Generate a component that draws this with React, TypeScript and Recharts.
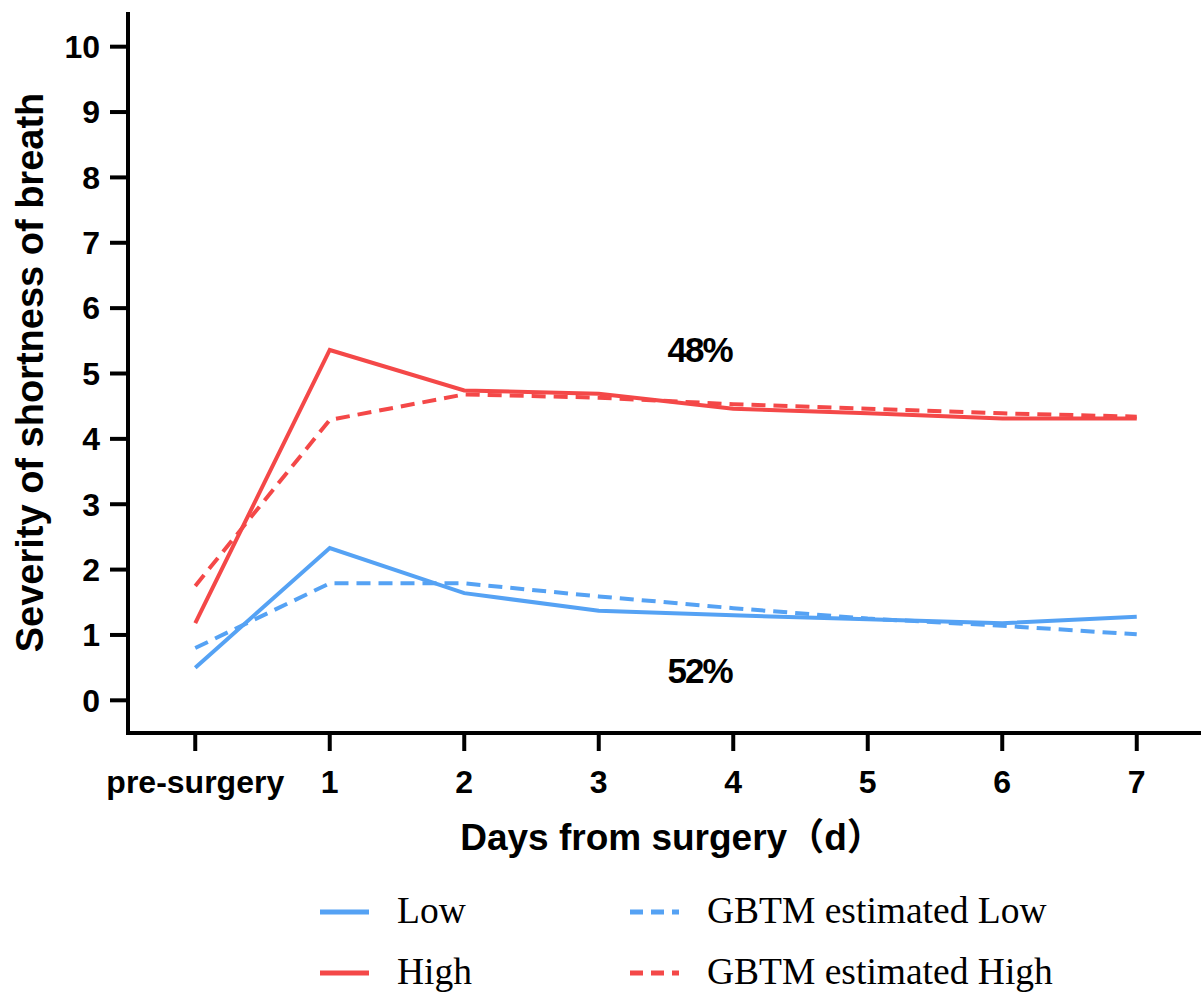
import React from 'react';
import { LineChart, Line, XAxis, YAxis, ReferenceDot, Legend } from 'recharts';

// ---- data ----
const dayIndex = [0, 1, 2, 3, 4, 5, 6, 7];
const dayLabels = ['pre-surgery', '1', '2', '3', '4', '5', '6', '7'];
const lowObserved = [0.5, 2.33, 1.64, 1.37, 1.3, 1.24, 1.18, 1.28];
const lowEstimated = [0.8, 1.79, 1.79, 1.59, 1.41, 1.25, 1.14, 1.01];
const highObserved = [1.18, 5.36, 4.74, 4.69, 4.46, 4.39, 4.31, 4.31];
const highEstimated = [1.75, 4.29, 4.68, 4.63, 4.53, 4.46, 4.39, 4.34];
const yTicks = [0, 1, 2, 3, 4, 5, 6, 7, 8, 9, 10];
const groupLabels = ['48%', '52%'];
const seriesNames = ['Low', 'GBTM estimated Low', 'High', 'GBTM estimated High'];

const data = dayIndex.map((d, i) => ({
  day: d,
  lowObserved: lowObserved[i],
  lowEstimated: lowEstimated[i],
  highObserved: highObserved[i],
  highEstimated: highEstimated[i],
}));

const BLUE = '#55A2F4';
const RED = '#F44848';
const SANS = "'Liberation Sans', Arial, 'Noto Sans CJK SC', sans-serif";
const SERIF = "'Liberation Serif', 'Times New Roman', serif";

const series = [
  { key: 'lowObserved', name: seriesNames[0], color: BLUE, dash: undefined as string | undefined },
  { key: 'lowEstimated', name: seriesNames[1], color: BLUE, dash: '14 8' },
  { key: 'highObserved', name: seriesNames[2], color: RED, dash: undefined as string | undefined },
  { key: 'highEstimated', name: seriesNames[3], color: RED, dash: '14 8' },
];

const axisLineStyle = { stroke: '#000', strokeWidth: 4, strokeLinecap: 'square' as const };
const tickLineStyle = { stroke: '#000', strokeWidth: 4 };
const tickStyle = { fill: '#000', fontFamily: SANS, fontWeight: 700, fontSize: 32 };

const LegendContent = () => {
  const cols = [{ line: 320, text: 397 }, { line: 630, text: 707 }];
  const rows = [42, 103];
  return (
    <svg width={1201} height={122} style={{ display: 'block' }}>
      {series.map((s, i) => {
        const c = cols[i % 2];
        const r = rows[Math.floor(i / 2)];
        return (
          <g key={s.key}>
            <line x1={c.line} x2={c.line + 49} y1={r} y2={r} stroke={s.color} strokeWidth={5} strokeDasharray={s.dash ? '13 8' : undefined} />
            <text x={c.text} y={r + 11} fontFamily={SERIF} fontSize={37.5} fill="#000">{s.name}</text>
          </g>
        );
      })}
    </svg>
  );
};

const YLabel = (props: any) => {
  const vb = props.viewBox || {};
  const x = (vb.x || 0) + 43;
  const y = (vb.y || 0) + (vb.height || 0) / 2 - 1;
  return (
    <text x={x} y={y} transform={`rotate(-90, ${x}, ${y})`} textAnchor="middle" fontFamily={SANS} fontWeight={700} fontSize={38} fill="#000">
      Severity of shortness of breath
    </text>
  );
};

const XLabel = (props: any) => {
  const vb = props.viewBox || {};
  const x = (vb.x || 0) + (vb.width || 0) / 2 + 6;
  const y = (vb.y || 0) + 117;
  return (
    <text x={x} y={y} textAnchor="middle" fontFamily={SANS} fontWeight={700} fontSize={37} fill="#000">
      Days from surgery（d）
    </text>
  );
};

const groupLabelStyle = { fill: '#000', fontFamily: SANS, fontWeight: 700, fontSize: 35, letterSpacing: -2 };

export default function App() {
  return (
    <div style={{ position: 'fixed', left: 0, top: 0, width: 1201, height: 992, overflow: 'hidden', background: '#fff' }}>
      <LineChart width={1210} height={992} data={data} margin={{ top: 14, right: 6, bottom: 199, left: 0 }}>
        <XAxis
          dataKey="day"
          type="number"
          domain={[-0.5, 7.5]}
          ticks={dayIndex}
          tickFormatter={(v: number) => dayLabels[v]}
          height={60}
          axisLine={axisLineStyle}
          tickLine={tickLineStyle}
          tickSize={18}
          tickMargin={19}
          tick={tickStyle}
          interval={0}
          label={<XLabel />}
        />
        <XAxis
          xAxisId="top"
          orientation="top"
          dataKey="day"
          type="number"
          domain={[-0.5, 7.5]}
          height={0}
          tick={false}
          tickLine={false}
          axisLine={axisLineStyle}
        />
        <YAxis
          type="number"
          domain={[-0.5, 10.5]}
          ticks={yTicks}
          width={128}
          axisLine={axisLineStyle}
          tickLine={tickLineStyle}
          tickSize={18}
          tickMargin={10}
          tick={tickStyle}
          interval={0}
          label={<YLabel />}
        />
        {series.map((s) => (
          <Line
            key={s.key}
            dataKey={s.key}
            name={s.name}
            type="linear"
            stroke={s.color}
            strokeWidth={4}
            strokeDasharray={s.dash}
            dot={false}
            activeDot={false}
            isAnimationActive={false}
          />
        ))}
        <ReferenceDot x={3.75} y={5.36} r={0} label={{ value: groupLabels[0], position: 'center', ...groupLabelStyle }} />
        <ReferenceDot x={3.75} y={0.46} r={0} label={{ value: groupLabels[1], position: 'center', ...groupLabelStyle }} />
        <Legend
          layout="horizontal"
          verticalAlign="middle"
          align="center"
          content={<LegendContent />}
          wrapperStyle={{ left: 0, top: 870, width: 1201, height: 122 }}
        />
      </LineChart>
    </div>
  );
}
